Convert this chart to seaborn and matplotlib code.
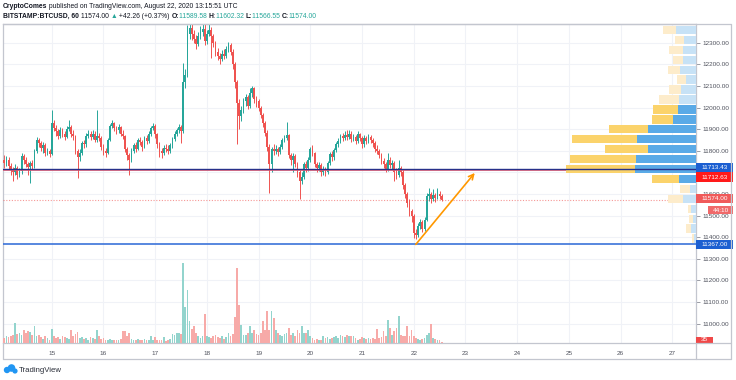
import matplotlib
matplotlib.use('Agg')
import matplotlib.pyplot as plt
import matplotlib.patches as mpatches
import seaborn as sns
import pandas as pd

# hourly BTCUSD candles, Aug 14 01:00 -> Aug 22 13:00 (UTC)
first_open = 11810
closes = [
    11760, 11745, 11760, 11730, 11715, 11700, 11720, 11690, 11705, 11775, 11760, 11740,
    11725, 11745, 11730, 11800, 11850, 11835, 11815, 11825, 11790, 11800, 11785,
    11930, 11905, 11890, 11870, 11895, 11880, 11865, 11900, 11910, 11880, 11870, 11800,
    11770, 11790, 11835, 11830, 11870, 11880, 11865, 11880, 11850, 11870, 11860, 11820,
    11800, 11790, 11850, 11915, 11930, 11905, 11895, 11910, 11880, 11870, 11810, 11780,
    11760, 11800, 11825, 11810, 11850, 11840, 11820, 11860, 11845, 11880, 11905, 11915,
    11880, 11830, 11800, 11790, 11815, 11810, 11800, 11825, 11855, 11880, 11895, 11910,
    11890, 12120, 12150, 12340, 12370, 12340, 12320, 12295, 12330, 12350, 12365, 12310,
    12340, 12360, 12330, 12300, 12260, 12240, 12225, 12250, 12240, 12270, 12290, 12260,
    12200, 12120, 12020, 11960, 11990, 12030, 12050, 12010, 12070, 12090, 12040, 12030,
    12000, 11965, 11930, 11885, 11820, 11740, 11810, 11800, 11810, 11795, 11820, 11850,
    11860, 11875, 11780, 11760, 11775, 11740, 11700, 11660, 11680, 11740, 11720, 11760,
    11810, 11790, 11740, 11720, 11735, 11700, 11715, 11700, 11745, 11785, 11770, 11805,
    11830, 11845, 11870, 11860, 11875, 11865, 11880, 11855, 11865, 11845, 11880, 11860,
    11830, 11860, 11845, 11865, 11850, 11835, 11810, 11800, 11780, 11755, 11740, 11715,
    11760, 11735, 11745, 11700, 11690, 11720, 11700, 11640, 11600, 11560, 11520, 11500,
    11420, 11410, 11450, 11470, 11440, 11480, 11590, 11600, 11575, 11595, 11580, 11600,
    11589.58, 11574,
]
highs = [
    11825, 11780, 11775, 11770, 11745, 11725, 11740, 11730, 11720, 11790, 11785, 11770,
    11750, 11755, 11760, 11810, 11865, 11860, 11845, 11840, 11835, 11815, 11810,
    11990, 11945, 11920, 11900, 11910, 11905, 11890, 11915, 11945, 11920, 11895, 11875,
    11810, 11810, 11845, 11850, 11885, 11895, 11890, 11895, 11890, 11990, 11885, 11870,
    11830, 11815, 11860, 11925, 11945, 11935, 11915, 11925, 11915, 11895, 11875, 11820,
    11790, 11815, 11835, 11840, 11860, 11865, 11850, 11870, 11875, 11890, 11915, 11930,
    11925, 11885, 11840, 11815, 11825, 11830, 11825, 11835, 11865, 11890, 11905, 11925,
    11920, 12205, 12180, 12385, 12400, 12395, 12360, 12335, 12350, 12380, 12395, 12400,
    12360, 12390, 12375, 12340, 12310, 12275, 12255, 12265, 12270, 12285, 12305, 12300,
    12270, 12210, 12130, 12040, 12010, 12045, 12065, 12060, 12090, 12100, 12095, 12055,
    12040, 12010, 11975, 11940, 11895, 11830, 11820, 11830, 11825, 11820, 11830, 11860,
    11875, 11935, 11880, 11790, 11790, 11785, 11750, 11710, 11700, 11750, 11755, 11770,
    11820, 11825, 11795, 11750, 11750, 11745, 11730, 11725, 11755, 11795, 11800, 11815,
    11840, 11860, 11880, 11885, 11890, 11895, 11895, 11890, 11880, 11875, 11890, 11885,
    11870, 11875, 11870, 11880, 11875, 11860, 11845, 11825, 11810, 11790, 11765, 11750,
    11790, 11770, 11760, 11755, 11720, 11760, 11730, 11710, 11650, 11610, 11575, 11530,
    11510, 11440, 11465, 11485, 11480, 11495, 11605, 11630, 11610, 11625, 11605, 11630,
    11615, 11602.32,
]
lows = [
    11745, 11720, 11730, 11715, 11690, 11660, 11690, 11670, 11680, 11695, 11740, 11725,
    11690, 11650, 11715, 11720, 11790, 11820, 11800, 11790, 11775, 11780, 11770,
    11780, 11890, 11870, 11855, 11860, 11865, 11850, 11860, 11890, 11865, 11850, 11785,
    11675, 11755, 11780, 11815, 11820, 11860, 11850, 11855, 11840, 11840, 11845, 11805,
    11780, 11770, 11785, 11845, 11905, 11890, 11880, 11885, 11870, 11855, 11795, 11760,
    11690, 11750, 11790, 11795, 11805, 11825, 11800, 11815, 11830, 11835, 11870, 11895,
    11860, 11815, 11770, 11765, 11780, 11795, 11785, 11790, 11815, 11845, 11870, 11885,
    11835, 11885, 12090, 12140, 12320, 12315, 12300, 12270, 12285, 12320, 12330, 12290,
    12295, 12330, 12230, 12280, 12240, 12220, 12200, 12215, 12225, 12230, 12260, 12245,
    12180, 12090, 11830, 11900, 11940, 11975, 12010, 11995, 12000, 12050, 12020, 12005,
    11985, 11950, 11910, 11870, 11800, 11605, 11700, 11780, 11785, 11775, 11785, 11810,
    11840, 11850, 11765, 11735, 11700, 11725, 11680, 11575, 11645, 11670, 11700, 11705,
    11750, 11775, 11725, 11700, 11705, 11685, 11690, 11685, 11695, 11735, 11755, 11760,
    11795, 11820, 11835, 11845, 11850, 11850, 11855, 11840, 11845, 11830, 11835, 11845,
    11815, 11820, 11830, 11835, 11835, 11820, 11795, 11785, 11765, 11740, 11720, 11700,
    11705, 11720, 11715, 11660, 11670, 11680, 11685, 11625, 11580, 11540, 11500, 11470,
    11395, 11390, 11400, 11440, 11425, 11430, 11475, 11570, 11560, 11570, 11565, 11575,
    11575, 11566.55,
]
volumes = [
    216, 180, 240, 204, 264, 300, 720, 336, 360, 300, 480, 360, 420, 396, 300, 600,
    240, 300, 216, 144, 264, 180, 120,
    504, 240, 180, 216, 144, 264, 216, 180, 144, 456, 240, 336, 384, 180, 216, 144,
    180, 120, 216, 180, 144, 456, 240, 144,
    180, 120, 96, 144, 96, 120, 96, 120, 144, 420, 420, 240, 360, 144, 120, 96, 144,
    120, 96, 144, 120, 96, 240, 120,
    216, 96, 120, 96, 216, 60, 120, 144, 336, 300, 360, 360, 336, 2880, 1296, 1896,
    780, 504, 600, 360, 240, 180, 240, 1032,
    240, 216, 180, 240, 300, 216, 180, 240, 144, 216, 360, 240, 336, 936, 2700, 1380,
    660, 300, 300, 360, 600, 360, 456, 336,
    300, 360, 780, 480, 1140, 480, 1164, 900, 480, 360, 300, 240, 336, 360, 540, 300,
    360, 240, 480, 360, 624, 360, 360, 480,
    240, 180, 120, 144, 120, 120, 240, 180, 216, 144, 180, 216, 240, 180, 300, 240,
    216, 300, 240, 264, 240, 180, 120, 144,
    216, 180, 144, 180, 144, 180, 144, 504, 180, 216, 420, 240, 840, 540, 300, 420,
    540, 960, 300, 240, 264, 600, 240, 480,
    240, 180, 144, 120, 144, 180, 300, 360, 684, 180, 144, 120, 96, 36,
]

# visible-range volume profile (rows of ~46 USD, top to bottom)
vp_prices = [12360, 12314, 12268, 12222, 12176, 12130, 12084, 12038, 11992, 11946, 11900,
             11854, 11808, 11762, 11716, 11670, 11624, 11578, 11532, 11486, 11440, 11394]
vp_up = [20, 12, 13, 13, 16, 10, 15, 17, 18, 23, 48, 59, 48, 60, 61, 17, 6, 13, 5, 3, 5, 2]
vp_down = [13, 9, 14, 10, 12, 9, 12, 20, 25, 21, 39, 65, 43, 66, 69, 27, 10, 15, 3, 4, 5, 2]
vp_area = ['out'] * 8 + ['in'] * 8 + ['out'] * 6

price_ticks = list(range(11000, 12400, 100))
day_ticks = list(range(15, 28))

UP, DOWN = '#26a69a', '#ef5350'
W, H = 736, 380

sns.set_theme(style='white')
plt.rcParams['font.family'] = ['Liberation Sans', 'DejaVu Sans']

fig = plt.figure(figsize=(W / 100, H / 100), dpi=100)
fig.patch.set_facecolor('white')

# main pane: x 3..696 px, y 24..343 px
ax = fig.add_axes([3 / W, 1 - 343 / H, 693 / W, 319 / H])
ax.set_facecolor('white')

opens = [first_open] + closes[:-1]
t = [14 + (i + 1) / 24 for i in range(len(closes))]
direction = ['up' if c >= o else 'down' for o, c in zip(opens, closes)]
cols = [UP if d == 'up' else DOWN for d in direction]
df = pd.DataFrame({'t': t, 'open': opens, 'close': closes, 'high': highs,
                   'low': lows, 'vol': volumes, 'dir': direction})

# grid
for p in price_ticks:
    ax.axhline(p, color='#f0f2f7', lw=0.8, zorder=0)
for d in day_ticks:
    ax.axvline(d, color='#f0f2f7', lw=0.8, zorder=0)

# volume overlay
ax_vol = ax.twinx()
sns.barplot(data=df, x='t', y='vol', hue='dir', palette={'up': '#93d4cd', 'down': '#f7aaa8'},
            native_scale=True, dodge=False, width=0.8, errorbar=None, legend=False,
            saturation=1, linewidth=0, ax=ax_vol)
ax_vol.set_ylim(0, max(volumes) * 319 / 80)
ax_vol.set_yticks([])
ax_vol.set_xlabel('')
ax_vol.set_ylabel('')
ax_vol.tick_params(axis='x', bottom=False, labelbottom=False, top=False, labeltop=False)
for s in ax_vol.spines.values():
    s.set_visible(False)

# candles
body_lo = [min(o, c) for o, c in zip(opens, closes)]
body_h = [max(abs(c - o), 3) for o, c in zip(opens, closes)]
ax.vlines(df['t'], df['low'], df['high'], colors=cols, lw=0.7, zorder=2)
ax.bar(df['t'], body_h, bottom=body_lo, width=0.8 / 24, color=cols, lw=0, zorder=3)

# horizontal levels
ax.axhline(11710.5, color='#f06070', lw=1.2, zorder=4)
ax.axhline(11714, color='#27318a', lw=1.0, zorder=5)
ax.axhline(11367, color='#3b73d9', lw=1.2, zorder=4)
ax.axhline(11574, color=DOWN, lw=0.8, ls=(0, (1, 1.5)), alpha=0.6, zorder=4)

# projected move arrow
ax.annotate('', xy=(23.18, 11698), xytext=(22.04, 11367),
            arrowprops=dict(arrowstyle='->', color='#ff9800', lw=1.2,
                            mutation_scale=9, shrinkA=0, shrinkB=0), zorder=6)

ax.set_xlim(14.058, 27.458)
ax.set_ylim(10910.6, 12387.5)

# volume profile on the right
ax_vp = ax.inset_axes([0, 0, 1, 1], zorder=4)
vp = pd.DataFrame({'price': vp_prices, 'up': vp_up,
                   'total': [u + d for u, d in zip(vp_up, vp_down)], 'area': vp_area})
sns.barplot(data=vp, x='total', y='price', hue='area', orient='y', native_scale=True,
            palette={'in': '#fbd36b', 'out': '#fdeccb'}, dodge=False, width=0.84,
            errorbar=None, legend=False, saturation=1, linewidth=0, ax=ax_vp)
sns.barplot(data=vp, x='up', y='price', hue='area', orient='y', native_scale=True,
            palette={'in': '#5aaae7', 'out': '#c7e2f6'}, dodge=False, width=0.84,
            errorbar=None, legend=False, saturation=1, linewidth=0, ax=ax_vp)
ax_vp.set_xlim(693, 0)
ax_vp.set_ylim(10910.6, 12387.5)
ax_vp.set_xlabel('')
ax_vp.set_ylabel('')
ax_vp.set_xticks([])
ax_vp.set_yticks([])
ax_vp.axis('off')
ax_vp.patch.set_visible(False)

# axes styling
ax.yaxis.tick_right()
ax.set_yticks(price_ticks)
ax.set_yticklabels([f'{p:.2f}' for p in price_ticks])
ax.set_xticks(day_ticks)
ax.set_xticklabels([str(d) for d in day_ticks])
ax.set_xlabel('')
ax.set_ylabel('')
ax.tick_params(axis='both', labelsize=4.6, colors='#8a8d96', labelcolor='#50535e',
               length=3, width=0.6, pad=2)
ax.tick_params(axis='x', pad=2.5)
for name, s in ax.spines.items():
    s.set_color('#c3c6cf')
    s.set_linewidth(0.9)

# price labels on the scale
ytr = ax.get_yaxis_transform()
def scale_tag(price, text, color, x0=1.0, x1=1.0534, h=42):
    ax.add_patch(mpatches.Rectangle((x0, price - h / 2), x1 - x0, h, transform=ytr,
                                    color=color, clip_on=False, zorder=8, lw=0))
    ax.text((x0 + x1) / 2, price, text, transform=ytr, ha='center', va='center',
            fontsize=4.6, color='white', clip_on=False, zorder=9)

scale_tag(11723, '11713.43', '#1c5fd1')
scale_tag(11679, '11712.63', '#ff1a1a')
scale_tag(11579, '11574.00', '#f05a5a')
scale_tag(11525, '44:10', '#f06a6a', x0=1.0173, h=37)
scale_tag(11367, '11367.00', '#1c5fd1', h=44)
scale_tag(10925, '35', '#f04848', x1=1.0245, h=28)

# outer frame
def fig_line(x0, y0, x1, y1):
    fig.add_artist(plt.Line2D([x0 / W, x1 / W], [1 - y0 / H, 1 - y1 / H],
                              color='#c3c6cf', lw=0.9))
fig_line(3, 24, 731, 24)
fig_line(731, 24, 731, 359)
fig_line(3, 359, 731, 359)
fig_line(3, 343, 3, 359)
fig_line(696, 343, 696, 359)
fig_line(696, 343, 731, 343)

# header
renderer = fig.canvas.get_renderer()
line1 = [('CryptoComes', '#131722', 'bold'),
         (' published on TradingView.com, August 22, 2020 13:15:51 UTC', '#131722', 'normal')]
line2 = [('BITSTAMP:BTCUSD, 60', '#131722', 'bold'), (' 11574.00 ', '#131722', 'normal'),
         ('▲', UP, 'normal'), (' +42.26 (+0.37%) ', '#131722', 'normal'),
         ('O:', '#131722', 'bold'), ('11589.58 ', UP, 'normal'),
         ('H:', '#131722', 'bold'), ('11602.32 ', UP, 'normal'),
         ('L:', '#131722', 'bold'), ('11566.55 ', UP, 'normal'),
         ('C:', '#131722', 'bold'), ('11574.00', UP, 'normal')]

def put_line(pieces, x_px, y_px, size):
    x = x_px
    arts = []
    for s, c, w in pieces:
        txt = fig.text(x / W, 1 - y_px / H, s, color=c, fontweight=w, fontsize=size,
                       ha='left', va='center')
        x += txt.get_window_extent(renderer).width
        arts.append(txt)
    return x, arts

end, arts = put_line(line1, 3, 6.5, 10)
size = 10 * 235 / (end - 3)
for a in arts:
    a.remove()
put_line(line1, 3, 6.5, size)
put_line(line2, 3, 16.5, size)

# TradingView mark
for cx, cy, r in [(7, 370, 3.2), (11.5, 368, 3.8), (15, 371, 2.6)]:
    fig.add_artist(mpatches.Ellipse((cx / W, 1 - cy / H), 2 * r / W, 2 * r / H,
                                    color='#2196f3', lw=0))
fig.text(19 / W, 1 - 370 / H, 'TradingView', fontsize=5.6, color='#2a2e39',
         ha='left', va='center')

fig.savefig('out.png', dpi=100, facecolor='white')
